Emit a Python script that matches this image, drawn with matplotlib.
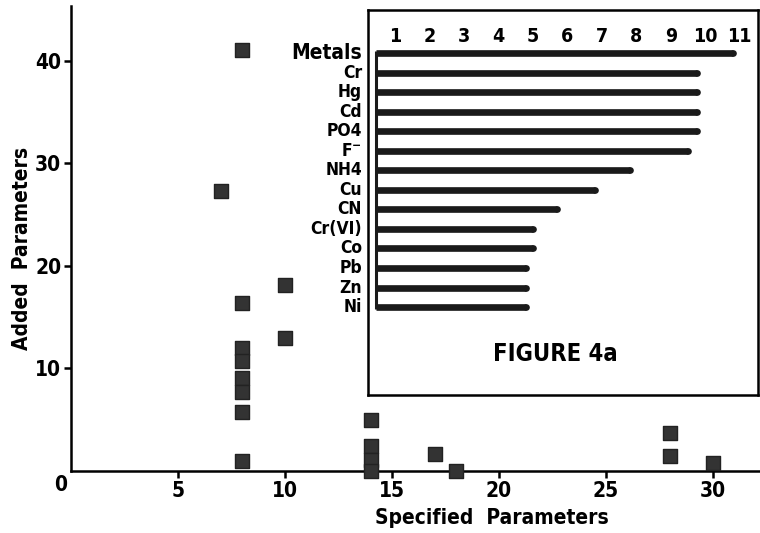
import numpy as np
import matplotlib.pyplot as plt

plt.rcParams['font.family'] = ['DejaVu Sans']
plt.rcParams['font.stretch'] = 'condensed'
plt.rcParams['font.weight'] = 'bold'
plt.rcParams['axes.labelweight'] = 'bold'

# main scatter: specified vs added parameters
spec_x = [8, 7, 8, 8, 8, 8, 8, 8, 8, 10, 10, 14, 14, 14, 14, 17, 18, 28, 28, 30]
added_y = [41, 27.3, 16.4, 12.0, 10.7, 9.1, 7.7, 5.8, 1.0, 18.1, 13.0,
           5.0, 2.4, 1.1, 0.0, 1.7, 0.0, 3.7, 1.5, 0.8]

# inset bar chart (Figure 4a)
params = ['Metals', 'Cr', 'Hg', 'Cd', 'PO4', 'F$^{-}$', 'NH4', 'Cu', 'CN',
          'Cr(VI)', 'Co', 'Pb', 'Zn', 'Ni']
counts = [10.9, 9.85, 9.85, 9.85, 9.85, 9.6, 7.9, 6.9, 5.8, 5.1, 5.1, 4.9, 4.9, 4.9]
inset_ticks = list(range(1, 12))

fig = plt.figure(figsize=(7.6, 5.33), dpi=100)
ax = fig.add_axes([0.0934, 0.1163, 0.9066, 0.872])

ax.scatter(spec_x, added_y, marker='s', s=110, color='#333333',
           edgecolors='#222222', zorder=3, clip_on=False)

ax.set_xlim(0, 32.2)
ax.set_ylim(0, 45.3)
ax.spines['top'].set_visible(False)
ax.spines['right'].set_visible(False)
ax.spines['left'].set_linewidth(1.8)
ax.spines['bottom'].set_linewidth(1.8)
ax.set_xticks([5, 10, 15, 20, 25, 30])
ax.set_yticks([10, 20, 30, 40])
ax.tick_params(axis='both', labelsize=15, width=1.8, length=5, pad=2)
ax.text(-0.5, -1.4, '0', fontsize=15, ha='center', va='center')
ax.set_xlabel('Specified  Parameters', fontsize=15)
ax.xaxis.set_label_coords(0.611, -0.08)
ax.set_ylabel('Added  Parameters', fontsize=15)
ax.yaxis.set_label_coords(-0.057, 0.478)

# inset
axi = fig.add_axes([0.484, 0.259, 0.513, 0.722])
axi.set_xlim(0.217, 11.52)
axi.set_ylim(17.5, -2.2)
axi.set_xticks([])
axi.set_yticks([])
for s in axi.spines.values():
    s.set_linewidth(1.8)

y_idx = np.arange(len(params))
x0 = 0.45
axi.plot([x0, x0], [-0.1, len(params) - 0.9], color='#1a1a1a', lw=2.2,
         solid_capstyle='butt')
for i, (name, v) in enumerate(zip(params, counts)):
    axi.plot([x0, v - 0.09], [y_idx[i], y_idx[i]], color='#1a1a1a', lw=4.8,
             solid_capstyle='butt')
    axi.plot([v - 0.09], [y_idx[i]], 'o', color='#1a1a1a', ms=4.8, mew=0)
    fs = 15 if i == 0 else 12.5
    axi.text(0.05, y_idx[i], name, fontsize=fs, ha='right', va='center',
             clip_on=False)
for t in inset_ticks:
    axi.text(t, -0.85, str(t), fontsize=14, ha='center', va='center')
axi.text(5.65, 15.4, 'FIGURE 4a', fontsize=17, ha='center', va='center')

plt.savefig('out.png', dpi=100)
